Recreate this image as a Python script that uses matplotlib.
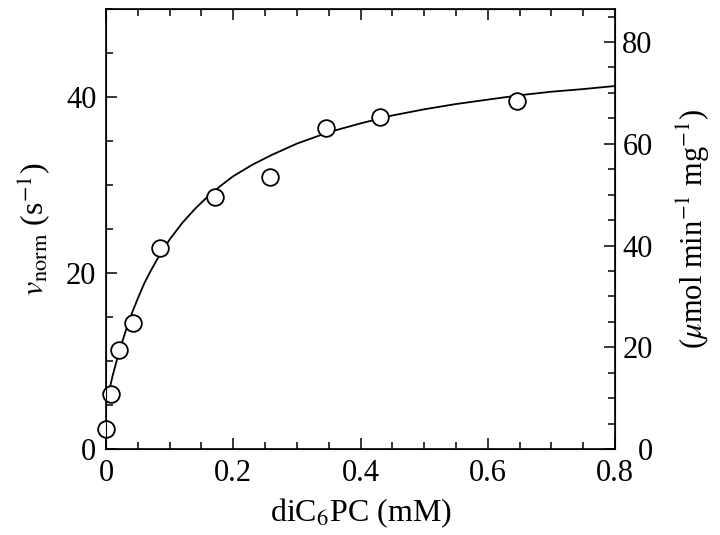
import numpy as np
import matplotlib
matplotlib.use('Agg')
import matplotlib.pyplot as plt
from matplotlib.ticker import MultipleLocator

plt.rcParams['font.family'] = ['Liberation Serif', 'DejaVu Serif']
plt.rcParams['mathtext.fontset'] = 'stix'

# measured points: diC6PC (mM) vs v_norm (s^-1)
conc = [0.0, 0.008, 0.021, 0.043, 0.085, 0.172, 0.258, 0.345, 0.431, 0.646]
vnorm = [2.3, 6.2, 11.2, 14.3, 22.8, 28.6, 30.9, 36.5, 37.7, 39.6]

# fitted curve
fit_x = [0.0, 0.005, 0.01, 0.02, 0.03, 0.04, 0.05, 0.06, 0.07, 0.08, 0.09, 0.10,
         0.12, 0.14, 0.16, 0.18, 0.20, 0.23, 0.26, 0.30, 0.35, 0.40, 0.45, 0.50,
         0.55, 0.60, 0.65, 0.70, 0.75, 0.80]
fit_v = [5.0, 6.6, 8.2, 10.9, 13.2, 15.3, 17.1, 18.8, 20.2, 21.5, 22.7, 23.8,
         25.7, 27.3, 28.7, 29.9, 31.0, 32.3, 33.4, 34.7, 36.0, 37.0, 37.9, 38.6,
         39.2, 39.7, 40.2, 40.6, 40.9, 41.25]

ymax_left = 50
ymax_right = 86.5

fig = plt.figure(figsize=(7.2, 5.35), dpi=100)
ax = fig.add_axes([0.1472, 0.1607, 0.707, 0.8225])

ax.plot(fit_x, fit_v, color='black', lw=1.3, zorder=2)
ax.plot(conc, vnorm, 'o', ms=12, mfc='white', mec='black', mew=1.3, zorder=3, clip_on=False)

ax.set_xlim(0, 0.8)
ax.set_ylim(0, ymax_left)
ax.set_xticks([0, 0.2, 0.4, 0.6, 0.8])
ax.set_xticklabels(['0', '0.2', '0.4', '0.6', '0.8'])
ax.xaxis.set_minor_locator(MultipleLocator(0.05))
ax.yaxis.set_major_locator(MultipleLocator(20))
ax.yaxis.set_minor_locator(MultipleLocator(5))
ax.tick_params(which='both', direction='in', top=True, right=False, labelsize=22, width=1.1)
ax.tick_params(which='major', length=8, pad=7)
ax.tick_params(which='minor', length=5)
for s in ax.spines.values():
    s.set_linewidth(1.2)

ax.set_xlabel('diC$_6$PC (mM)', fontsize=23, labelpad=6)
ax.set_ylabel(r'$v_{\rm norm}$ (s$^{-1}$)', fontsize=23, labelpad=10)

ax2 = ax.twinx()
ax2.set_ylim(0, ymax_right)
ax2.yaxis.set_major_locator(MultipleLocator(20))
ax2.yaxis.set_minor_locator(MultipleLocator(5))
ax2.tick_params(which='both', direction='in', labelsize=22, width=1.1)
ax2.tick_params(which='major', length=8, pad=27)
ax2.tick_params(which='minor', length=5)
# right-hand labels are right aligned in the original
for lab in ax2.get_yticklabels():
    lab.set_horizontalalignment('right')
ax2.set_ylabel(r'($\mu$mol min$^{-1}$ mg$^{-1}$)', fontsize=22, rotation=90, labelpad=16)

fig.savefig('out.png', dpi=100)
